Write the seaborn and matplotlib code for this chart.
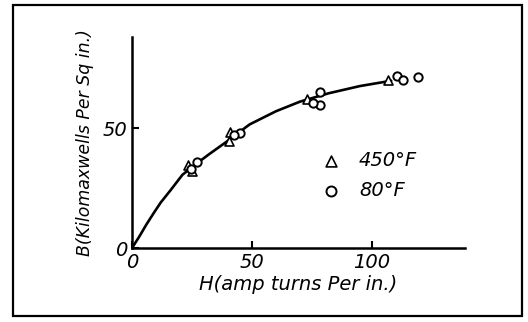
import numpy as np
import pandas as pd
import seaborn as sns
import matplotlib.pyplot as plt
from matplotlib.patches import Rectangle

h_450 = [23.5, 25.0, 40.8, 40.5, 72.8, 106.8]
b_450 = [34.5, 32.0, 48.5, 44.5, 62.0, 70.0]
h_80 = [27.0, 24.5, 45.0, 42.5, 78.3, 78.3, 75.5, 110.3, 113.0, 119.3]
b_80 = [36.0, 33.0, 47.8, 47.0, 65.1, 59.6, 60.3, 71.7, 70.0, 71.1]

# drawn curve
h_curve = [0, 3, 6, 9, 12, 16, 21, 26, 32, 39, 49, 60, 70, 82, 95, 108]
b_curve = [0, 4.7, 9.8, 14.5, 19, 24, 30.5, 34.5, 39, 44, 51.5, 57, 61, 64.5, 67.5, 69.7]

sns.set_style("ticks")
plt.rcParams['font.family'] = ['DejaVu Sans']
plt.rcParams['font.style'] = 'italic'
plt.rcParams['text.color'] = 'black'
plt.rcParams['axes.labelcolor'] = 'black'

fig = plt.figure(figsize=(5.28, 3.22), dpi=100)
ax = fig.add_axes([0.25, 0.2298, 0.6307, 0.655])

sns.lineplot(x=h_curve, y=b_curve, color='black', linewidth=1.9, sort=False, ax=ax)
sns.scatterplot(x=h_450, y=b_450, marker='^', s=42, color='white',
                edgecolor='black', linewidth=1.2, label='450°F', ax=ax, zorder=3)
sns.scatterplot(x=h_80, y=b_80, marker='o', s=36, color='white',
                edgecolor='black', linewidth=1.4, label='80°F', ax=ax, zorder=3)

ax.set_xlim(0, 138.75)
ax.set_ylim(0, 87.9)
ax.set_xticks([0, 50, 100])
ax.set_yticks([0, 50])
ax.tick_params(direction='in', length=5, width=1.5, labelsize=14, colors='black')
for s in ['top', 'right']:
    ax.spines[s].set_visible(False)
for s in ['left', 'bottom']:
    ax.spines[s].set_linewidth(1.8)
    ax.spines[s].set_color('black')

ax.set_xlabel('H(amp turns Per in.)', fontsize=14, labelpad=2)
ax.set_ylabel('B(Kilomaxwells Per Sq in.)', fontsize=12.5, labelpad=6)

leg = ax.legend(loc='upper left', bbox_to_anchor=(0.515, 0.495), frameon=False,
                fontsize=14, handletextpad=0.45, borderaxespad=0, labelspacing=0.55,
                markerscale=1.2)
for t in leg.get_texts():
    t.set_color('black')

fig.patches.append(Rectangle((0.0246, 0.0186), 0.964, 0.966, transform=fig.transFigure,
                             fill=False, edgecolor='black', linewidth=1.6))

fig.savefig('out.png', dpi=100)
